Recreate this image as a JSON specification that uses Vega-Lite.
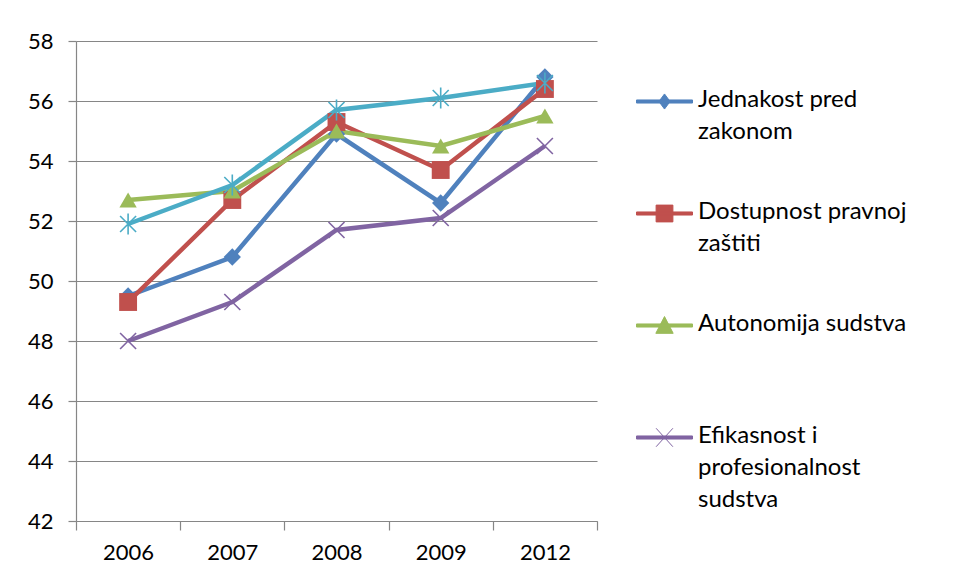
{
  "$schema": "https://vega.github.io/schema/vega-lite/v6.json",
  "width": 521,
  "height": 480,
  "autosize": {"type": "none"},
  "padding": {"left": 76, "top": 41, "right": 363, "bottom": 59},
  "background": "white",
  "config": {
    "view": {"stroke": null},
    "font": "Lato",
    "axis": {"labelFont": "Lato", "labelFontSize": 22, "labelColor": "#000000", "domainColor": "#868686", "tickColor": "#868686", "gridColor": "#868686", "domainWidth": 1.2, "tickWidth": 1.2, "gridWidth": 1.2},
    "legend": {"labelFont": "Lato", "labelFontSize": 24, "labelColor": "#000000"}
  },
  "data": {
    "values": [
      {"year": "2006", "series": "Jednakost pred zakonom", "value": 49.5},
      {"year": "2007", "series": "Jednakost pred zakonom", "value": 50.8},
      {"year": "2008", "series": "Jednakost pred zakonom", "value": 54.9},
      {"year": "2009", "series": "Jednakost pred zakonom", "value": 52.6},
      {"year": "2012", "series": "Jednakost pred zakonom", "value": 56.8},
      {"year": "2006", "series": "Dostupnost pravnoj zaštiti", "value": 49.3},
      {"year": "2007", "series": "Dostupnost pravnoj zaštiti", "value": 52.7},
      {"year": "2008", "series": "Dostupnost pravnoj zaštiti", "value": 55.3},
      {"year": "2009", "series": "Dostupnost pravnoj zaštiti", "value": 53.7},
      {"year": "2012", "series": "Dostupnost pravnoj zaštiti", "value": 56.4},
      {"year": "2006", "series": "Autonomija sudstva", "value": 52.7},
      {"year": "2007", "series": "Autonomija sudstva", "value": 53.0},
      {"year": "2008", "series": "Autonomija sudstva", "value": 55.0},
      {"year": "2009", "series": "Autonomija sudstva", "value": 54.5},
      {"year": "2012", "series": "Autonomija sudstva", "value": 55.5},
      {"year": "2006", "series": "Efikasnost i profesionalnost sudstva", "value": 48.0},
      {"year": "2007", "series": "Efikasnost i profesionalnost sudstva", "value": 49.3},
      {"year": "2008", "series": "Efikasnost i profesionalnost sudstva", "value": 51.7},
      {"year": "2009", "series": "Efikasnost i profesionalnost sudstva", "value": 52.1},
      {"year": "2012", "series": "Efikasnost i profesionalnost sudstva", "value": 54.5},
      {"year": "2006", "series": "Serija 5", "value": 51.9},
      {"year": "2007", "series": "Serija 5", "value": 53.2},
      {"year": "2008", "series": "Serija 5", "value": 55.7},
      {"year": "2009", "series": "Serija 5", "value": 56.1},
      {"year": "2012", "series": "Serija 5", "value": 56.6}
    ]
  },
  "encoding": {
    "x": {"field": "year", "type": "ordinal", "title": null,
      "scale": {"type": "band", "paddingInner": 0, "paddingOuter": 0},
      "axis": {"labelAngle": 0, "tickBand": "extent", "tickSize": 9, "labelPadding": 12, "grid": false}},
    "y": {"field": "value", "type": "quantitative", "title": null,
      "scale": {"domain": [42, 58], "nice": false, "zero": false},
      "axis": {"values": [42, 44, 46, 48, 50, 52, 54, 56, 58], "tickSize": 8, "labelPadding": 15, "grid": true}},
    "color": {"field": "series", "type": "nominal", "legend": null,
      "scale": {"domain": ["Jednakost pred zakonom", "Dostupnost pravnoj zaštiti", "Autonomija sudstva", "Efikasnost i profesionalnost sudstva", "Serija 5"],
        "range": ["#4F81BD", "#C0504D", "#9BBB59", "#8064A2", "#4BACC6"]}}
  },
  "layer": [
    {
      "mark": {"type": "line", "strokeWidth": 4.5},
      "encoding": {"order": {"field": "year"}}
    },
    {
      "transform": [{"filter": "datum.series == 'Jednakost pred zakonom'"}],
      "mark": {"type": "point", "filled": true, "opacity": 1, "shape": "diamond", "size": 300}
    },
    {
      "transform": [{"filter": "datum.series == 'Dostupnost pravnoj zaštiti'"}],
      "mark": {"type": "point", "filled": true, "opacity": 1, "shape": "square", "size": 320}
    },
    {
      "transform": [{"filter": "datum.series == 'Autonomija sudstva'"}],
      "mark": {"type": "point", "filled": true, "opacity": 1, "shape": "triangle-up", "size": 300}
    },
    {
      "transform": [{"filter": "datum.series == 'Efikasnost i profesionalnost sudstva'"}],
      "mark": {"type": "point", "filled": false, "opacity": 1, "strokeWidth": 1.6, "shape": "M-1,-1L1,1M-1,1L1,-1", "size": 256}
    },
    {
      "transform": [{"filter": "datum.series == 'Serija 5'"}],
      "mark": {"type": "point", "filled": false, "opacity": 1, "strokeWidth": 1.6, "shape": "M-1,-1L1,1M-1,1L1,-1M0,-1.3L0,1.3", "size": 256}
    },
    {
      "transform": [{"filter": "false"}],
      "mark": {"type": "point", "filled": true, "opacity": 1, "strokeWidth": 1},
      "encoding": {
        "fill": {"field": "series", "type": "nominal",
          "scale": {"domain": ["Jednakost pred zakonom", "Dostupnost pravnoj zaštiti", "Autonomija sudstva", "Efikasnost i profesionalnost sudstva"],
            "range": ["#4F81BD", "#C0504D", "#9BBB59", "#8064A2"]},
          "legend": {"title": null, "orient": "none", "legendX": 560, "legendY": 32, "padding": 0, "symbolSize": 3136, "symbolStrokeWidth": 1, "symbolOpacity": 1, "labelOffset": 5, "rowPadding": 9, "labelBaseline": "middle",
            "labelExpr": "datum.label == 'Jednakost pred zakonom' ? ['Jednakost pred', 'zakonom', ''] : datum.label == 'Dostupnost pravnoj zaštiti' ? ['Dostupnost pravnoj', 'zaštiti', ''] : datum.label == 'Autonomija sudstva' ? ['Autonomija sudstva', '', ''] : ['Efikasnost i', 'profesionalnost', 'sudstva']",
            "labelLimit": 400,
            "encode": {"labels": {"update": {"lineHeight": {"value": 32}, "dy": {"value": -2}}}}}},
        "stroke": {"field": "series", "type": "nominal",
          "scale": {"domain": ["Jednakost pred zakonom", "Dostupnost pravnoj zaštiti", "Autonomija sudstva", "Efikasnost i profesionalnost sudstva"],
            "range": ["#4F81BD", "#C0504D", "#9BBB59", "#8064A2"]},
          "legend": {"title": null, "orient": "none", "legendX": 560, "legendY": 32, "padding": 0, "symbolSize": 3136, "symbolStrokeWidth": 1, "symbolOpacity": 1, "labelOffset": 5, "rowPadding": 9, "labelBaseline": "middle",
            "labelExpr": "datum.label == 'Jednakost pred zakonom' ? ['Jednakost pred', 'zakonom', ''] : datum.label == 'Dostupnost pravnoj zaštiti' ? ['Dostupnost pravnoj', 'zaštiti', ''] : datum.label == 'Autonomija sudstva' ? ['Autonomija sudstva', '', ''] : ['Efikasnost i', 'profesionalnost', 'sudstva']",
            "labelLimit": 400,
            "encode": {"labels": {"update": {"lineHeight": {"value": 32}, "dy": {"value": -2}}}}}},
        "shape": {"field": "series", "type": "nominal",
          "scale": {"domain": ["Jednakost pred zakonom", "Dostupnost pravnoj zaštiti", "Autonomija sudstva", "Efikasnost i profesionalnost sudstva"],
            "range": [
              "M-1,-0.055H1V0.055H-1Z M0,-0.27L0.2,0L0,0.27L-0.2,0Z",
              "M-1,-0.055H1V0.055H-1Z M-0.3,-0.3H0.3V0.3H-0.3Z",
              "M-1,-0.055H1V0.055H-1Z M0,-0.32L0.31,0.28H-0.31Z",
              "M-1,-0.055H1V0.055H-1Z M-0.3,-0.33L0.3,0.33M-0.3,0.33L0.3,-0.33"
            ]},
          "legend": {"title": null, "orient": "none", "legendX": 560, "legendY": 32, "padding": 0, "symbolSize": 3136, "symbolStrokeWidth": 1, "symbolOpacity": 1, "labelOffset": 5, "rowPadding": 9, "labelBaseline": "middle",
            "labelExpr": "datum.label == 'Jednakost pred zakonom' ? ['Jednakost pred', 'zakonom', ''] : datum.label == 'Dostupnost pravnoj zaštiti' ? ['Dostupnost pravnoj', 'zaštiti', ''] : datum.label == 'Autonomija sudstva' ? ['Autonomija sudstva', '', ''] : ['Efikasnost i', 'profesionalnost', 'sudstva']",
            "labelLimit": 400,
            "encode": {"labels": {"update": {"lineHeight": {"value": 32}, "dy": {"value": -2}}}}}}
      }
    }
  ]
}
